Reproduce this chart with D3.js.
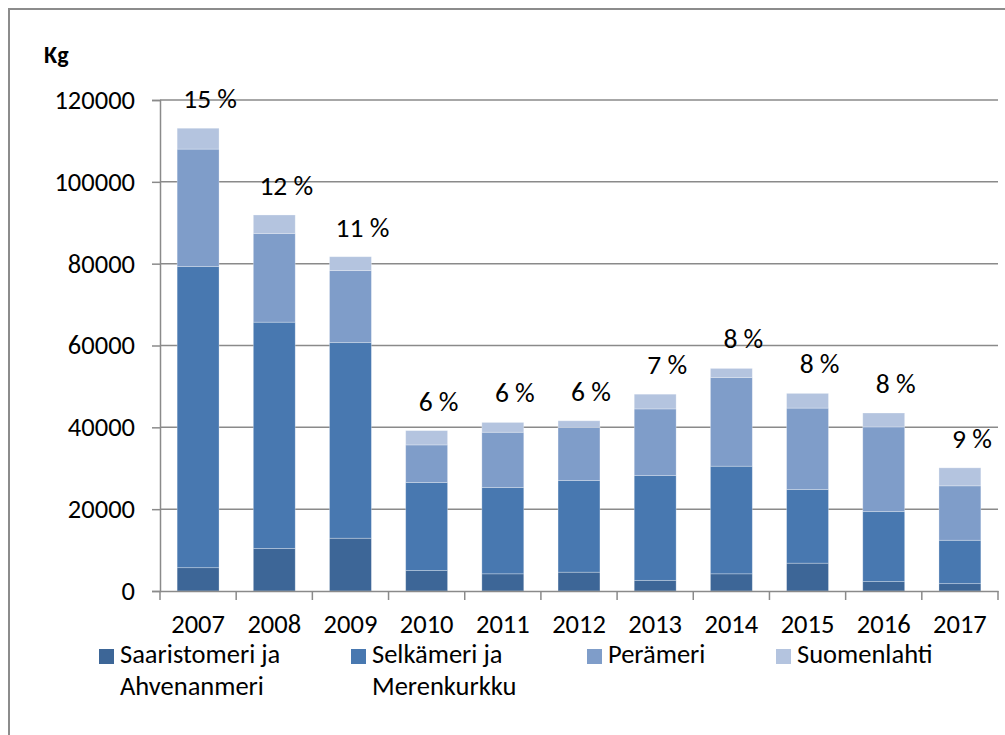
<!DOCTYPE html>
<html>
<head>
<meta charset="utf-8">
<script src="https://cdnjs.cloudflare.com/ajax/libs/d3/7.8.5/d3.min.js"></script>
<style>
  body { margin: 0; background: #fff; }
  text { font-family: Carlito, Calibri, Lato, sans-serif; fill: #000; }
</style>
</head>
<body>
<div class="canvas"></div>
<script>
// data (kg)
var years = ["2007","2008","2009","2010","2011","2012","2013","2014","2015","2016","2017"]
var saaristomeri = [5700, 10400, 12900, 5000, 4200, 4600, 2600, 4200, 6800, 2300, 1800]
var selkameri    = [73600, 55300, 47800, 21500, 21100, 22400, 25600, 26300, 18000, 17100, 10600]
var perameri     = [28700, 21700, 17600, 9200, 13500, 13000, 16300, 21700, 19900, 20700, 13300]
var suomenlahti  = [5100, 4500, 3400, 3500, 2400, 1600, 3600, 2200, 3600, 3400, 4400]
var shares = [15, 12, 11, 6, 6, 6, 7, 8, 8, 8, 9]
var seriesNames = [["Saaristomeri ja", "Ahvenanmeri"], ["Selkämeri ja", "Merenkurkku"], ["Perämeri"], ["Suomenlahti"]]
var colors = ["#3d6697", "#4878b0", "#7f9dc9", "#b4c4df"]
var yTicks = [0, 20000, 40000, 60000, 80000, 100000, 120000]

var font = 'Carlito, Calibri, Lato, sans-serif'

var svg = d3.select('.canvas').append('svg')
  .attr('width', 1005).attr('height', 735)

// outer frame
svg.append('rect')
  .attr('x', 9).attr('y', 9).attr('width', 1010).attr('height', 740)
  .attr('fill', 'none').attr('stroke', '#8c8c8c').attr('stroke-width', 2)

var x = d3.scaleBand().domain(years).range([160, 998])
  .paddingInner(0.45).paddingOuter(0.225)
var y = d3.scaleLinear().domain([0, 120000]).range([591, 100])

// gridlines
svg.append('g').selectAll('line').data(yTicks.slice(1)).enter().append('line')
  .attr('x1', 160).attr('x2', 998)
  .attr('y1', d => y(d)).attr('y2', d => y(d))
  .attr('stroke', '#8a8a8a').attr('stroke-width', 1.5)

// stacked bars
var table = years.map((yr, i) => ({
  year: yr, s0: saaristomeri[i], s1: selkameri[i], s2: perameri[i], s3: suomenlahti[i]
}))
var stack = d3.stack().keys(["s0", "s1", "s2", "s3"])(table)

svg.append('g').selectAll('g').data(stack).enter().append('g')
  .attr('fill', (d, i) => colors[i])
  .selectAll('rect').data(d => d).enter().append('rect')
  .attr('x', d => x(d.data.year))
  .attr('width', x.bandwidth())
  .attr('y', d => y(d[1]))
  .attr('height', d => y(d[0]) - y(d[1]))
  .attr('stroke', 'rgba(255,255,255,0.35)').attr('stroke-width', 0.8)

// y axis
var yAxis = d3.axisLeft(y).tickValues(yTicks).tickSize(8).tickPadding(17).tickFormat(d3.format('d'))
var gy = svg.append('g').attr('transform', 'translate(160,0)').call(yAxis)
gy.select('.domain').attr('stroke', '#8a8a8a').attr('stroke-width', 1.5)
gy.selectAll('.tick line').attr('stroke', '#8a8a8a').attr('stroke-width', 1.5)
gy.selectAll('text').attr('font-size', 26.5).attr('font-family', font)

// x axis
var xAxis = d3.axisBottom(x).tickSize(0).tickPadding(23)
var gx = svg.append('g').attr('transform', 'translate(0,591)').call(xAxis)
gx.select('.domain').attr('stroke', '#8a8a8a').attr('stroke-width', 1.5)
gx.selectAll('text').attr('font-size', 26.5).attr('font-family', font)
svg.append('g').selectAll('line').data(d3.range(years.length + 1)).enter().append('line')
  .attr('x1', i => 160 + i * x.step()).attr('x2', i => 160 + i * x.step())
  .attr('y1', 591).attr('y2', 600)
  .attr('stroke', '#8a8a8a').attr('stroke-width', 1.5)

// share labels above the bars
svg.append('g').selectAll('text').data(years).enter().append('text')
  .attr('x', d => x(d) + x.bandwidth() / 2 + 12)
  .attr('y', (d, i) => y(saaristomeri[i] + selkameri[i] + perameri[i] + suomenlahti[i]) - 20)
  .attr('text-anchor', 'middle').attr('font-size', 27.5)
  .text((d, i) => shares[i] + ' %')

// unit label
svg.append('text').attr('x', 44).attr('y', 63)
  .attr('font-size', 24).attr('font-weight', 'bold').text('Kg')

// legend
var legendX = [99, 351, 587, 776]
var legend = svg.append('g').selectAll('g').data(seriesNames).enter().append('g')
  .attr('transform', (d, i) => `translate(${legendX[i]},649)`)
legend.append('rect').attr('width', 15).attr('height', 15).attr('fill', (d, i) => colors[i])
legend.append('text').attr('font-size', 26.5)
  .selectAll('tspan').data(d => d).enter().append('tspan')
  .attr('x', 21).attr('y', (d, i) => 14 + i * 32)
  .text(d => d)
</script>
</body>
</html>
